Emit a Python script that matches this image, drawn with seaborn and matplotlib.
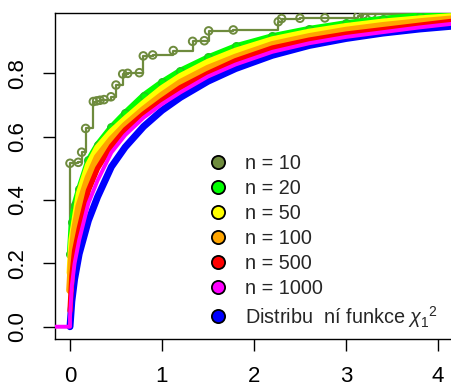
import matplotlib
matplotlib.use("Agg")
import matplotlib.pyplot as plt
import seaborn as sns
import pandas as pd
from matplotlib.lines import Line2D

# n = 10: empirical CDF step points
x_n10 = [0.0, 0.09, 0.127, 0.17, 0.254, 0.29, 0.326, 0.37, 0.446, 0.50, 0.573, 0.627,
         0.754, 0.797, 0.899, 1.123, 1.333, 1.46, 1.507, 1.775, 2.264, 2.30, 2.50, 2.77,
         3.13, 3.19, 3.28, 4.02]
y_n10 = [0.516, 0.519, 0.551, 0.626, 0.711, 0.713, 0.715, 0.717, 0.726, 0.763, 0.798, 0.800,
         0.802, 0.855, 0.858, 0.872, 0.901, 0.903, 0.934, 0.937, 0.963, 0.973, 0.974, 0.975,
         0.981, 0.986, 0.987, 0.990]

# larger samples, read along the bands
x_grid = [0, 0.02, 0.05, 0.1, 0.2, 0.3, 0.45, 0.6, 0.8, 1.0, 1.2, 1.5, 1.8, 2.2, 2.6,
          3.0, 3.4, 3.8, 4.2]
y_n20 = [0.23, 0.33, 0.385, 0.435, 0.525, 0.575, 0.63, 0.675, 0.73, 0.772, 0.808, 0.85,
         0.885, 0.917, 0.94, 0.958, 0.972, 0.982, 0.989]
y_n50 = [0.17, 0.274, 0.33, 0.42, 0.51, 0.565, 0.615, 0.655, 0.705, 0.752, 0.79, 0.835,
         0.87, 0.906, 0.93, 0.948, 0.962, 0.972, 0.98]
y_n100 = [0.115, 0.22, 0.30, 0.38, 0.47, 0.535, 0.59, 0.635, 0.685, 0.73, 0.77, 0.815,
          0.85, 0.89, 0.915, 0.935, 0.95, 0.962, 0.972]
y_n500 = [0.05, 0.16, 0.24, 0.31, 0.43, 0.50, 0.57, 0.622, 0.672, 0.715, 0.755, 0.80,
          0.84, 0.88, 0.905, 0.924, 0.938, 0.952, 0.966]
y_n1000 = [0.03, 0.13, 0.20, 0.274, 0.39, 0.462, 0.55, 0.605, 0.66, 0.703, 0.74, 0.79,
           0.828, 0.868, 0.895, 0.915, 0.93, 0.945, 0.958]
y_chi2 = [0.0, 0.08, 0.15, 0.23, 0.335, 0.41, 0.505, 0.567, 0.632, 0.683, 0.724, 0.775,
          0.815, 0.857, 0.888, 0.91, 0.927, 0.94, 0.95]
x_left = -0.2   # ecdf is 0 left of zero
x_right = 4.4

labels = ["n = 10", "n = 20", "n = 50", "n = 100", "n = 500", "n = 1000",
          "Distribu  ní funkce $\\chi_1{}^2$"]
colors = ["#6E8B3D", "#00FF00", "#FFFF00", "#FFA500", "#FF0000", "#FF00FF", "#0000FF"]

sns.set_style("white")
plt.rcParams["font.family"] = ["Liberation Sans", "DejaVu Sans"]
plt.rcParams["mathtext.fontset"] = "custom"
plt.rcParams["mathtext.rm"] = "Liberation Sans"
plt.rcParams["mathtext.it"] = "Liberation Sans:italic"

fig = plt.figure(figsize=(4.52, 3.83), dpi=100)
ax = fig.add_axes([55 / 452, 44 / 383, 429 / 452, 326 / 383])

# theoretical cdf first, thick
sns.lineplot(x=x_grid, y=y_chi2, color=colors[6], lw=5.0, sort=False, estimator=None,
             ax=ax, zorder=2)

# n = 10 step function
sx = [x_left] + x_n10 + [x_right]
sy = [0.0] + y_n10 + [y_n10[-1]]
sns.lineplot(x=sx, y=sy, color=colors[0], lw=1.6, drawstyle="steps-post", sort=False,
             estimator=None, ax=ax, zorder=3)
ax.scatter(x_n10, y_n10, s=30, facecolors="none", edgecolors=colors[0], linewidths=1.4,
           zorder=3)

bands = [(y_n20, 1, 4.5), (y_n50, 2, 5.0), (y_n100, 3, 5.5), (y_n500, 4, 3.8),
         (y_n1000, 5, 2.8)]
for k, (yy, ci, lw) in enumerate(bands):
    xs, ys = list(x_grid), list(yy)
    if ci == 5:
        xs = [x_left, 0.0] + xs
        ys = [0.0, 0.0] + ys
    df = pd.DataFrame({"x": xs, "y": ys})
    sns.lineplot(data=df, x="x", y="y", color=colors[ci], lw=lw, sort=False,
                 estimator=None, ax=ax, zorder=4 + k, solid_capstyle="round")
    if ci == 1:
        ax.scatter(x_grid, yy, s=30, facecolors=colors[1], edgecolors="#22c422",
                   linewidths=1.0, zorder=4)

ax.set_xlim(-0.163, 4.5)
ax.set_ylim(-0.0388, 0.9905)
ax.set_xticks([0, 1, 2, 3, 4])
ax.set_yticks([0.0, 0.2, 0.4, 0.6, 0.8])
ax.set_yticklabels(["0.0", "0.2", "0.4", "0.6", "0.8"], rotation=90, va="center")
ax.tick_params(axis="both", direction="out", length=8.5, width=1.0, labelsize=16,
               color="black", labelcolor="black", left=True, bottom=True)
ax.tick_params(axis="x", pad=11)
ax.tick_params(axis="y", pad=11)
ax.set_xlabel("")
ax.set_ylabel("")
for s in ax.spines.values():
    s.set_color("black")
    s.set_linewidth(1.0)

handles = [Line2D([], [], ls="none", marker="o", markersize=9.5, markerfacecolor=c,
                  markeredgecolor="black", markeredgewidth=1.3) for c in colors]
ax.legend(handles, labels, loc="upper left", bbox_to_anchor=(0.460, 0.598),
          bbox_transform=fig.transFigure, frameon=False, fontsize=14.3,
          handlelength=1.0, handletextpad=0.86, labelspacing=0.30, borderpad=0,
          borderaxespad=0)

fig.savefig("out.png", dpi=100)
